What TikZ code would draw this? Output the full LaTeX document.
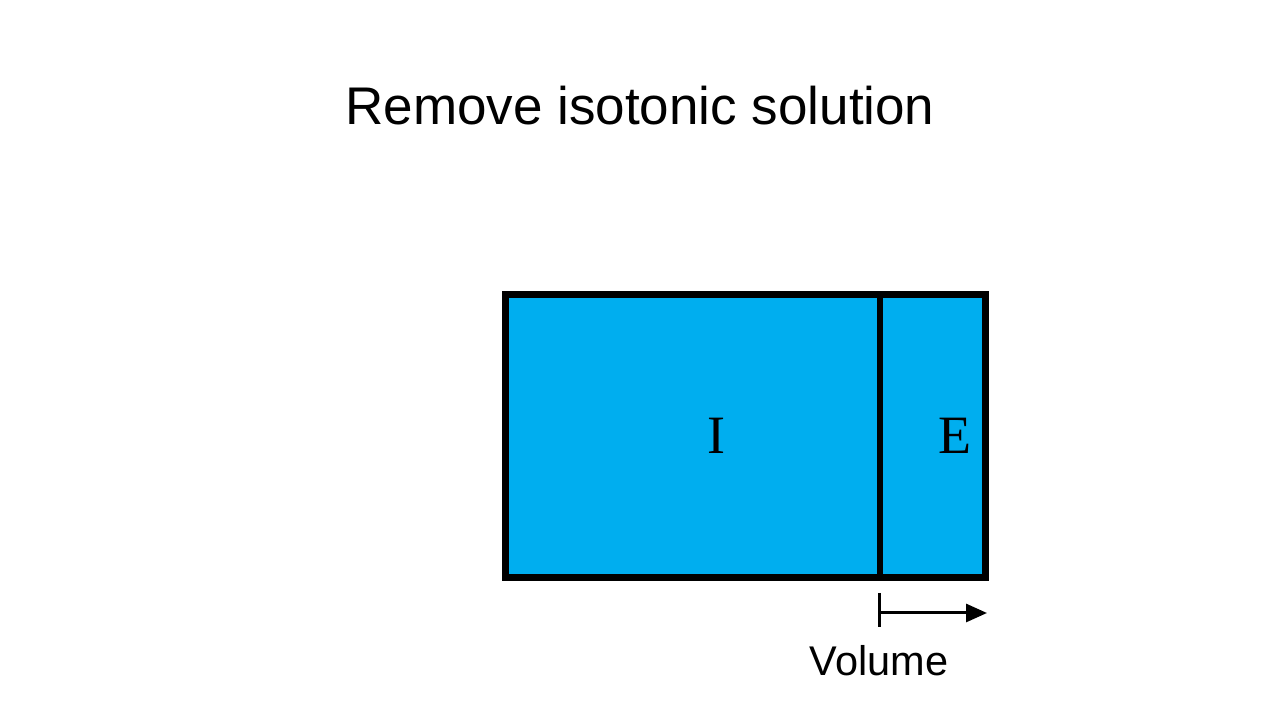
\documentclass[tikz,border=0pt]{standalone}
\usepackage{fontspec}
\setmainfont{Liberation Serif}
\setsansfont{Liberation Sans}
\usetikzlibrary{arrows.meta}
\definecolor{fluid}{RGB}{0,174,239}
\begin{document}
\begin{tikzpicture}[x=1pt,y=1pt,
  wall/.style={line width=7pt},
  divider/.style={line width=6.5pt},
  axis/.style={line width=3pt},
  title/.style={font=\sffamily\fontsize{53}{60}\selectfont, anchor=base, inner sep=0pt},
  label/.style={font=\sffamily\fontsize{41.5}{46}\selectfont, anchor=base, inner sep=0pt},
  comp/.style={font=\rmfamily\fontsize{54}{60}\selectfont, anchor=base, inner sep=0pt}]
\useasboundingbox (0,0) rectangle (1280,720);
\fill[white] (0,0) rectangle (1280,720);
% corners
\coordinate (bl) at (505.5,142.5);
\coordinate (tr) at (985.5,425.5);
\coordinate (db) at (880,142.5);
\coordinate (dt) at (880,425.5);
\fill[fluid] (bl) rectangle (tr);
\draw[wall] (bl) rectangle (tr);
\draw[divider] (db) -- (dt);
\node[title] (t) at (640,595) {Remove isotonic solution};
\node[comp] (i) at (716,266) {I};
\node[comp] (e) at (955,266) {E};
% volume axis
\coordinate (tk1) at (879,127);
\coordinate (tk2) at (879,93);
\coordinate (a0) at (879,107);
\coordinate (a1) at (987,107);
\draw[axis] (tk1) -- (tk2);
\draw[axis,-{Triangle[length=21pt,width=18pt]}] (a0) -- (a1);
\node[label] (v) at (879,44) {Volume};
\end{tikzpicture}
\end{document}
